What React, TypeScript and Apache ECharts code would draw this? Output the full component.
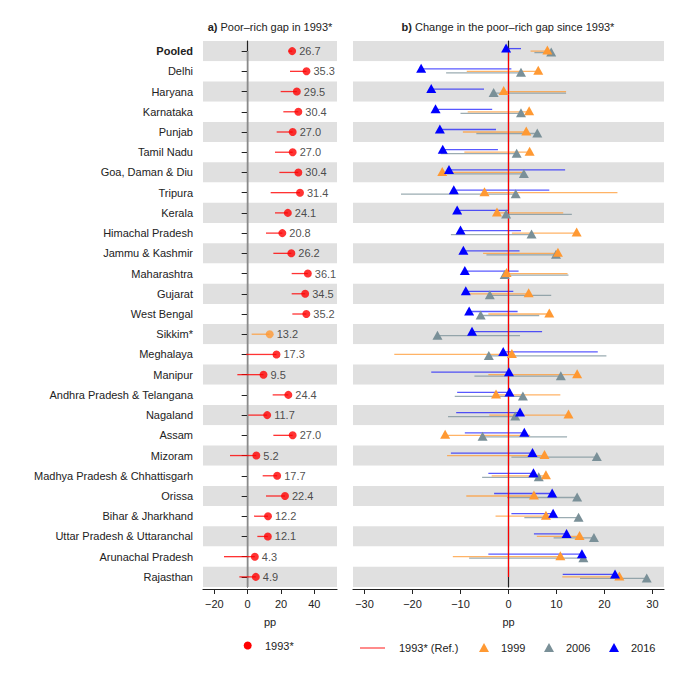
import React, { useEffect, useRef } from "react";
import * as echarts from "echarts";

const categories = [
  "Pooled", "Delhi", "Haryana", "Karnataka", "Punjab", "Tamil Nadu", "Goa, Daman & Diu",
  "Tripura", "Kerala", "Himachal Pradesh", "Jammu & Kashmir", "Maharashtra", "Gujarat",
  "West Bengal", "Sikkim*", "Meghalaya", "Manipur", "Andhra Pradesh & Telangana", "Nagaland",
  "Assam", "Mizoram", "Madhya Pradesh & Chhattisgarh", "Orissa", "Bihar & Jharkhand",
  "Uttar Pradesh & Uttaranchal", "Arunachal Pradesh", "Rajasthan",
];

const gap1993 = [26.7, 35.3, 29.5, 30.4, 27.0, 27.0, 30.4, 31.4, 24.1, 20.8, 26.2, 36.1, 34.5, 35.2, 13.2, 17.3, 9.5, 24.4, 11.7, 27.0, 5.2, 17.7, 22.4, 12.2, 12.1, 4.3, 4.9];
const gap1993Lo = [24.4, 25.4, 19.8, 21.4, 17.4, 16.4, 19.0, 13.8, 16.4, 11.0, 15.4, 26.4, 26.4, 26.8, 2.4, -1.0, -6.2, 15.0, 0.4, 15.4, -10.6, 9.0, 11.0, 3.8, 5.8, -14.2, -5.0];

const change1999 = [8.1, 6.2, -1.0, 4.3, 3.7, 4.4, -13.8, -5.0, -2.4, 14.2, 10.3, -0.4, 4.2, 8.5, null, 0.7, 14.3, -2.6, 12.5, -13.2, 7.5, 7.8, 5.3, 7.8, 14.8, 10.8, 23.1];
const ci1999End = [4.6, -8.7, 12.0, -8.5, -9.5, -9.2, 2.8, 22.7, 11.4, 0.7, -5.3, 12.3, -8.3, -4.2, null, -23.8, -4.2, 10.8, -4.0, 4.5, -12.8, -3.5, -8.8, -2.7, 5.9, -11.6, 11.2];
const change2006 = [8.9, 2.6, -3.1, 2.6, 6.0, 1.7, 3.2, 1.5, -0.5, 4.8, 9.9, -0.8, -3.9, -5.8, -14.8, -4.1, 10.9, 3.0, 1.4, -5.4, 18.4, 6.3, 14.3, 14.6, 17.8, 15.6, 28.8];
const ci2006End = [5.4, -13.0, 12.0, -10.0, -6.7, -14.1, -12.8, -22.4, 13.2, -12.0, -4.6, 12.5, 8.9, 6.4, 2.4, 20.4, -7.1, -11.2, -12.6, 12.2, 0.6, -5.5, -0.3, 3.3, 9.4, -8.2, 14.9];
const change2016 = [-0.5, -18.2, -16.1, -15.2, -14.3, -13.7, -12.4, -11.4, -10.7, -10.0, -9.4, -9.1, -8.9, -8.2, -7.6, -1.1, 0.1, 0.2, 2.4, 3.3, 5.0, 5.2, 9.1, 9.3, 12.1, 15.3, 22.2];
const ci2016End = [2.6, 0.6, -5.1, -3.4, -2.6, -2.2, 11.8, 8.5, 0.1, 2.6, 2.3, 2.1, 1.0, 1.9, 7.0, 18.6, -16.1, -10.7, -10.9, -9.1, -12.0, -4.2, -3.0, 0.6, 5.3, -4.2, 11.3];

const leftTicks = [-20, 0, 20, 40];
const rightTicks = [-30, -20, -10, 0, 10, 20, 30];

const FONT = "'Liberation Sans', Arial, Helvetica, sans-serif";
const RED = "#ff0000";
const ORANGE = "#ff9933";
const GREY = "#7a9098";
const BLUE = "#0000ff";

const minusFmt = (v: number) => String(v).replace("-", "\u2212");

function ciSeries(name: string, vals: (number | null)[], ends: (number | null)[], xi: number, color: string, dy: number, opacity: number) {
  const data: number[][] = [];
  vals.forEach((v, i) => {
    const e = ends[i];
    if (v != null && e != null) data.push([v, e, i]);
  });
  return {
    type: "custom",
    name,
    xAxisIndex: xi,
    yAxisIndex: xi,
    silent: true,
    encode: { x: [0, 1], y: 2 },
    data,
    renderItem: (params: any, api: any) => {
      const a = api.coord([api.value(0), api.value(2)]);
      const b = api.coord([api.value(1), api.value(2)]);
      return {
        type: "line",
        shape: { x1: a[0], y1: a[1] + dy, x2: b[0], y2: b[1] + dy },
        style: { stroke: color, lineWidth: 1.3, opacity },
      };
    },
  };
}

function triSeries(name: string, vals: (number | null)[], color: string, dy: number) {
  const data: number[][] = [];
  vals.forEach((v, i) => {
    if (v != null) data.push([v, i]);
  });
  return {
    type: "scatter",
    name,
    xAxisIndex: 1,
    yAxisIndex: 1,
    symbol: "triangle",
    symbolSize: [10, 9],
    symbolOffset: [0, dy],
    itemStyle: { color, opacity: 1 },
    data,
    z: 5,
  };
}

export default function App() {
  const ref = useRef<HTMLDivElement>(null);
  useEffect(() => {
    const chart = echarts.init(ref.current!, null, { renderer: "svg" });
    const yCats = categories.map((c) =>
      c === "Pooled" ? { value: c, textStyle: { fontWeight: "bold" } } : c
    );
    const axisLine = { show: true, lineStyle: { color: "#222", width: 1.2 } };
    const xAxisCommon = {
      type: "value",
      axisLine,
      axisTick: { show: true, length: 5, lineStyle: { color: "#222" } },
      splitLine: { show: false },
      name: "pp",
      nameLocation: "middle",
      nameGap: 27,
      nameTextStyle: { fontFamily: FONT, fontSize: 11, color: "#222" },
      offset: 2,
    };
    const leftDots = gap1993.map((v, i) => ({
      value: [v, i],
      itemStyle: { color: change1999[i] == null ? ORANGE : RED },
    }));
    const leftCI = gap1993.map((v, i) => [gap1993Lo[i], v, i, change1999[i] == null ? 1 : 0]);

    chart.setOption({
      animation: false,
      grid: [
        { left: 203, top: 41, width: 134, height: 546 },
        { left: 353, top: 41, width: 311, height: 546 },
      ],
      xAxis: [
        {
          ...xAxisCommon,
          gridIndex: 0,
          min: -26.8,
          max: 53.6,
          axisTick: { ...xAxisCommon.axisTick, customValues: leftTicks },
          axisLabel: { customValues: leftTicks, formatter: minusFmt, fontFamily: FONT, fontSize: 11, color: "#222", margin: 9 },
        },
        {
          ...xAxisCommon,
          gridIndex: 1,
          min: -32.4,
          max: 32.4,
          axisTick: { ...xAxisCommon.axisTick, customValues: rightTicks },
          axisLabel: { customValues: rightTicks, formatter: minusFmt, fontFamily: FONT, fontSize: 11, color: "#222", margin: 9 },
        },
      ],
      yAxis: [
        {
          type: "category",
          gridIndex: 0,
          data: yCats,
          inverse: true,
          axisLine,
          axisTick: { show: true, alignWithLabel: true, length: 6, lineStyle: { color: "#222" } },
          axisLabel: { fontFamily: FONT, fontSize: 11, color: "#222", margin: 10, interval: 0 },
          splitArea: { show: true, areaStyle: { color: ["#e0e0e0", "#ffffff"] } },
          splitLine: { show: false },
        },
        {
          type: "category",
          gridIndex: 1,
          data: categories,
          inverse: true,
          axisLine,
          axisTick: { show: false },
          axisLabel: { show: false },
          splitArea: { show: true, areaStyle: { color: ["#e0e0e0", "#ffffff"] } },
          splitLine: { show: false },
        },
      ],
      series: [
        {
          type: "custom",
          name: "zero-left",
          xAxisIndex: 0,
          yAxisIndex: 0,
          silent: true,
          data: [[0, 0]],
          encode: { x: 0, y: 1 },
          renderItem: (params: any, api: any) => {
            const p = api.coord([0, 0]);
            const bottom = params.coordSys.y + params.coordSys.height;
            return {
              type: "line",
              shape: { x1: p[0], y1: p[1], x2: p[0], y2: bottom },
              style: { stroke: "#8a8a8a", lineWidth: 1.5 },
            };
          },
          z: 1,
        },
        {
          type: "custom",
          name: "ci1993",
          xAxisIndex: 0,
          yAxisIndex: 0,
          silent: true,
          encode: { x: [0, 1], y: 2 },
          data: leftCI,
          renderItem: (params: any, api: any) => {
            const a = api.coord([api.value(0), api.value(2)]);
            const b = api.coord([api.value(1), api.value(2)]);
            return {
              type: "line",
              shape: { x1: a[0], y1: a[1], x2: b[0], y2: b[1] },
              style: { stroke: api.value(3) ? ORANGE : RED, lineWidth: 1.3, opacity: 0.8 },
            };
          },
          z: 2,
        },
        {
          type: "scatter",
          name: "1993*",
          xAxisIndex: 0,
          yAxisIndex: 0,
          symbol: "circle",
          symbolSize: 8,
          data: leftDots,
          label: {
            show: true,
            position: "right",
            distance: 3,
            formatter: (p: any) => p.value[0].toFixed(1),
            fontFamily: FONT,
            fontSize: 11,
            color: "#222",
          },
          z: 5,
        },
        {
          type: "custom",
          name: "1993* (Ref.)",
          xAxisIndex: 1,
          yAxisIndex: 1,
          silent: true,
          data: [[0, 0]],
          encode: { x: 0, y: 1 },
          renderItem: (params: any, api: any) => {
            const a = api.coord([0, 0]);
            const b = api.coord([0, categories.length - 1]);
            return {
              type: "line",
              shape: { x1: a[0], y1: a[1] - 3, x2: b[0], y2: b[1] },
              style: { stroke: RED, lineWidth: 1.2 },
            };
          },
          z: 3,
        },
        ciSeries("ci2006", change2006, ci2006End, 1, GREY, 1.5, 0.75),
        ciSeries("ci1999", change1999, ci1999End, 1, ORANGE, 0, 0.75),
        ciSeries("ci2016", change2016, ci2016End, 1, BLUE, -2.5, 0.65),
        triSeries("2006", change2006, GREY, 1),
        triSeries("1999", change1999, ORANGE, -1),
        triSeries("2016", change2016, BLUE, -3),
      ],
      graphic: [
        {
          type: "text",
          x: 270,
          y: 27,
          style: {
            text: "{b|a)} Poor\u2013rich gap in 1993*",
            rich: { b: { fontWeight: "bold", fontFamily: FONT, fontSize: 11, fill: "#222" } },
            fontFamily: FONT,
            fontSize: 11,
            fill: "#222",
            align: "center",
            verticalAlign: "middle",
          },
        },
        {
          type: "text",
          x: 508,
          y: 27,
          style: {
            text: "{b|b)} Change in the poor\u2013rich gap since 1993*",
            rich: { b: { fontWeight: "bold", fontFamily: FONT, fontSize: 11, fill: "#222" } },
            fontFamily: FONT,
            fontSize: 11,
            fill: "#222",
            align: "center",
            verticalAlign: "middle",
          },
        },
        { type: "circle", shape: { cx: 247.7, cy: 645.5, r: 4 }, style: { fill: RED } },
        { type: "text", x: 265, y: 645.5, style: { text: "1993*", fontFamily: FONT, fontSize: 11, fill: "#222", verticalAlign: "middle" } },
        { type: "line", shape: { x1: 360, y1: 648, x2: 385, y2: 648 }, style: { stroke: RED, lineWidth: 1.3, opacity: 0.7 } },
        { type: "text", x: 399, y: 648, style: { text: "1993* (Ref.)", fontFamily: FONT, fontSize: 11, fill: "#222", verticalAlign: "middle" } },
        { type: "polygon", shape: { points: [[479, 652], [489, 652], [484, 643]] }, style: { fill: ORANGE } },
        { type: "text", x: 501, y: 648, style: { text: "1999", fontFamily: FONT, fontSize: 11, fill: "#222", verticalAlign: "middle" } },
        { type: "polygon", shape: { points: [[544, 652], [554, 652], [549, 643]] }, style: { fill: GREY } },
        { type: "text", x: 566, y: 648, style: { text: "2006", fontFamily: FONT, fontSize: 11, fill: "#222", verticalAlign: "middle" } },
        { type: "polygon", shape: { points: [[609, 652], [619, 652], [614, 643]] }, style: { fill: BLUE } },
        { type: "text", x: 631, y: 648, style: { text: "2016", fontFamily: FONT, fontSize: 11, fill: "#222", verticalAlign: "middle" } },
      ],
    });
    return () => chart.dispose();
  }, []);
  return (
    <div
      ref={ref}
      style={{ position: "fixed", left: 0, top: 0, width: 685, height: 685, background: "#fff" }}
    />
  );
}
